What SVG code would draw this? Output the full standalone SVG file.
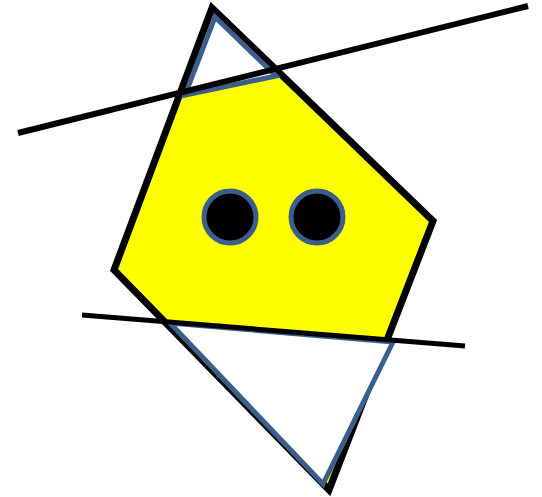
<svg xmlns="http://www.w3.org/2000/svg" width="542" height="497" viewBox="0 0 542 497">
  <style>
    .quad { fill: #FFFF00; stroke: none; }
    .edge { fill: none; stroke: #000000; stroke-width: 7; stroke-linejoin: miter; }
    .cut { fill: #FFFFFF; stroke: #3B5E8C; stroke-width: 5; stroke-linejoin: miter; }
    .line { stroke: #000000; fill: none; }
    .eye { fill: #000000; stroke: #3B5E8C; stroke-width: 5; }
  </style>
  <rect width="542" height="497" fill="#FFFFFF"/>
  <g id="polygon">
    <polygon class="quad" points="212,8 433,221 329,490 114,270"/>
    <polygon class="edge" points="212,8 433,221 329,490 114,270"/>
  </g>
  <g id="top-triangle">
    <polygon class="cut" points="215,17 276,76 185,95"/>
  </g>
  <g id="bottom-triangle">
    <polygon class="cut" points="170,323 393,342 323,484"/>
  </g>
  <g id="eyes">
    <circle id="eye-left" class="eye" cx="230" cy="217" r="26"/>
    <circle id="eye-right" class="eye" cx="317" cy="217" r="26"/>
  </g>
  <g id="lines">
    <line class="line" x1="18" y1="133" x2="528" y2="6" stroke-width="6"/>
    <line class="line" x1="82" y1="315" x2="465" y2="346" stroke-width="5"/>
  </g>
</svg>
